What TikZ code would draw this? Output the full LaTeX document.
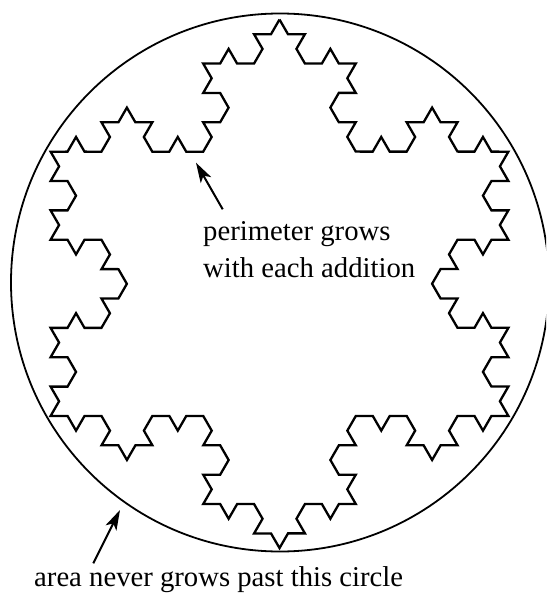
\documentclass[tikz,border=0pt]{standalone}
\usepackage{fontspec}
\setmainfont{Liberation Serif}
\usetikzlibrary{decorations.fractals,arrows.meta}
\begin{document}
\begin{tikzpicture}[x=1pt,y=-1pt,
  lbl/.style={anchor=base west,inner sep=0pt,font=\fontsize{28.7}{34}\selectfont},
  koch/.style={line width=2.3pt,line join=miter},
  rim/.style={circle,draw,line width=1.8pt,inner sep=0pt,minimum size=538pt},
  ptr/.style={line width=2pt,-{Stealth[length=20pt,width=12pt,inset=5pt]}}]
\clip (0,0) rectangle (546,594);
\node[rim] (ring) at (280,282.5) {};
\coordinate (T) at (279.5,19.5);
\coordinate (R) at (508.4,415.95);
\coordinate (L) at (50.6,415.95);
\draw[koch,decoration=Koch snowflake] decorate{decorate{decorate{(T) -- (R) -- (L) -- cycle}}};
\node[lbl] (p1) at (203,240) {perimeter grows};
\node[lbl] (p2) at (203,277.5) {with each addition};
\node[lbl] (a1) at (34,586) {area never grows past this circle};
\coordinate (h1) at (196,162.7);
\coordinate (s1) at (222.7,209.3);
\draw[ptr] (s1) -- (h1);
\coordinate (h2) at (120,510);
\coordinate (s2) at (93.3,563.3);
\draw[ptr] (s2) -- (h2);
\end{tikzpicture}
\end{document}
